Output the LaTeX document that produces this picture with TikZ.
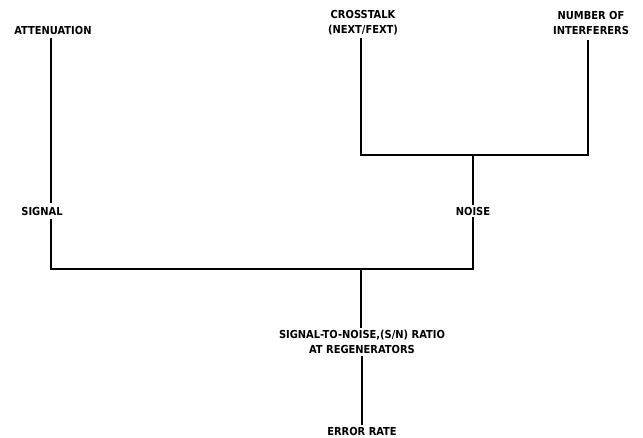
\documentclass[tikz,border=0pt]{standalone}
\usepackage{fontspec}
\setmainfont{DejaVu Sans Condensed}[BoldFont={DejaVu Sans Condensed Bold}]
\begin{document}
\begin{tikzpicture}[x=1pt,y=-1pt,
  lbl/.style={font=\bfseries\fontsize{11}{15}\selectfont, align=center, inner sep=2pt},
  wire/.style={line width=1.5pt}]
\useasboundingbox (0,0) rectangle (643,438);
\node[lbl] (att) at (53,30) {ATTENUATION};
\node[lbl] (cross) at (363,23) {CROSSTALK\\(NEXT/FEXT)};
\node[lbl] (num) at (591,23) {NUMBER OF\\INTERFERERS};
\node[lbl] (sig) at (42,211) {SIGNAL};
\node[lbl] (noise) at (473,211) {NOISE};
\node[lbl] (snr) at (362,342) {SIGNAL-TO-NOISE,(S/N) RATIO\\AT REGENERATORS};
\node[lbl] (err) at (362,431) {ERROR RATE};
\coordinate (j1) at (51,269);
\coordinate (j2) at (473,269);
\coordinate (jm) at (361,269);
\coordinate (c1) at (361,155);
\coordinate (c2) at (588,155);
\draw[wire] (51,38) -- (51,203);
\draw[wire] (51,219) -- (j1) -- (j2) -- (noise.south);
\draw[wire] (noise.north) -- (473,155);
\draw[wire] (361,38) -- (c1) -- (c2) -- (588,40);
\draw[wire] (jm) -- (snr.north -| jm);
\draw[wire] (snr.south) -- (err.north);
\end{tikzpicture}
\end{document}
